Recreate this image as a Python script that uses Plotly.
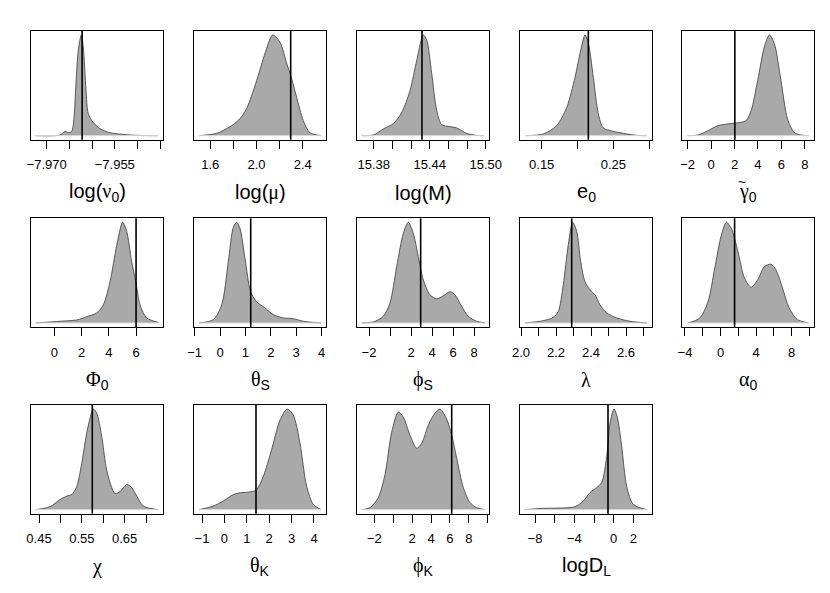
import plotly.graph_objects as go

# ---------------- data ----------------
# relative posterior density (peak = 1) at sampled parameter values, plus the true value
nu0_x = [-7.97242, -7.96707, -7.96597, -7.96524, -7.96449, -7.96399, -7.96355, -7.96304, -7.96238,
         -7.96194, -7.96134, -7.96084, -7.95974, -7.95826, -7.95606, -7.95099, -7.94548]
nu0_d = [0.0, 0.007, 0.043, 0.03, 0.043, 0.18, 0.52, 0.85, 1.0, 0.88, 0.45, 0.22, 0.13, 0.07, 0.03, 0.005, 0.0]
nu0_true = -7.9622

mu_x = [1.502, 1.655, 1.799, 1.857, 1.915, 2.002, 2.074, 2.140, 2.203, 2.261, 2.296, 2.348, 2.405, 2.463, 2.558]
mu_d = [0.0, 0.023, 0.11, 0.17, 0.27, 0.55, 0.82, 1.0, 0.93, 0.72, 0.6, 0.38, 0.15, 0.03, 0.0]
mu_true = 2.296

M_x = [15.3671, 15.3796, 15.3903, 15.4010, 15.4100, 15.4189, 15.4261, 15.4331, 15.4368, 15.4421,
       15.4475, 15.4528, 15.4617, 15.4689, 15.4796, 15.4903, 15.4981]
M_d = [0.0, 0.007, 0.067, 0.12, 0.23, 0.45, 0.75, 1.0, 0.95, 0.62, 0.25, 0.11, 0.09, 0.077, 0.023, 0.003, 0.0]
M_true = 15.4317

e0_x = [0.1267, 0.1522, 0.1709, 0.1849, 0.1965, 0.2045, 0.2105, 0.2151, 0.2221, 0.2290, 0.2360,
        0.2500, 0.2640, 0.2827, 0.2966]
e0_d = [0.0, 0.017, 0.1, 0.28, 0.58, 0.85, 1.0, 0.92, 0.58, 0.22, 0.077, 0.043, 0.023, 0.003, 0.0]
e0_true = 0.2151

gam_x = [-2.0, -1.102, -0.254, 0.593, 1.441, 2.577, 3.0, 3.424, 3.983, 4.551, 4.98, 5.40, 5.966,
         6.526, 7.094, 7.662, 8.306]
gam_d = [0.0, 0.007, 0.05, 0.1, 0.117, 0.133, 0.15, 0.25, 0.55, 0.883, 1.0, 0.917, 0.55, 0.167, 0.033, 0.007, 0.0]
gam_true = 2.03

Phi0_x = [-1.365, 0.418, 1.644, 2.378, 3.112, 3.596, 4.088, 4.580, 5.020, 5.314, 5.680, 5.996, 6.290, 6.781, 7.633]
Phi0_d = [0.0, 0.017, 0.03, 0.063, 0.1, 0.18, 0.41, 0.77, 1.0, 0.91, 0.61, 0.4, 0.18, 0.05, 0.007]
Phi0_true = 6.0

thS_x = [-0.827, -0.264, 0.067, 0.327, 0.524, 0.657, 0.787, 0.984, 1.209, 1.445, 1.772, 2.098,
         2.492, 2.886, 3.280, 3.976]
thS_d = [0.0, 0.033, 0.18, 0.61, 0.95, 1.0, 0.94, 0.64, 0.31, 0.21, 0.15, 0.083, 0.05, 0.043, 0.017, 0.0]
thS_true = 1.209

phS_x = [-2.695, -1.590, -0.638, 0.0, 0.638, 1.267, 1.743, 2.219, 2.695, 3.171, 3.810, 4.448, 5.076,
         5.714, 6.190, 6.829, 7.457, 8.257, 9.048]
phS_d = [0.0, 0.01, 0.066, 0.2, 0.56, 0.89, 1.0, 0.89, 0.66, 0.43, 0.28, 0.24, 0.27, 0.31, 0.28,
         0.165, 0.066, 0.017, 0.0]
phS_true = 2.92

lam_x = [2.0229, 2.1274, 2.1846, 2.2131, 2.2417, 2.2703, 2.2954, 2.3183, 2.3411, 2.3657, 2.3943,
         2.4229, 2.4514, 2.4897, 2.5469, 2.6229, 2.7183]
lam_d = [0.0, 0.023, 0.056, 0.115, 0.38, 0.78, 1.0, 0.91, 0.61, 0.41, 0.33, 0.28, 0.18, 0.1, 0.05, 0.017, 0.0]
lam_true = 2.2897

alp_x = [-3.698, -2.324, -1.397, -0.648, 0.101, 0.659, 1.218, 1.955, 2.704, 3.452, 4.190, 4.938,
         5.687, 6.245, 6.983, 7.732, 8.659, 9.888]
alp_d = [0.0, 0.05, 0.215, 0.545, 0.875, 1.0, 0.94, 0.71, 0.445, 0.356, 0.43, 0.56, 0.584, 0.528,
         0.347, 0.149, 0.033, 0.0]
alp_true = 1.587

chi_x = [0.4423, 0.4757, 0.4991, 0.5147, 0.5264, 0.5381, 0.5498, 0.5628, 0.5769, 0.5848, 0.5965,
         0.6065, 0.6159, 0.6276, 0.6393, 0.6549, 0.6666, 0.6783, 0.6937, 0.7287]
chi_d = [0.0, 0.03, 0.1, 0.135, 0.15, 0.23, 0.46, 0.79, 1.0, 0.96, 0.73, 0.43, 0.27, 0.16, 0.18,
         0.25, 0.22, 0.135, 0.036, 0.0]
chi_true = 0.5745

thK_x = [-1.134, -0.496, -0.049, 0.397, 0.696, 1.067, 1.411, 1.737, 2.112, 2.482, 2.808, 3.076,
         3.375, 3.674, 3.969, 4.313]
thK_d = [0.0, 0.036, 0.086, 0.15, 0.168, 0.174, 0.194, 0.33, 0.6, 0.89, 1.0, 0.94, 0.66, 0.23, 0.053, 0.0]
thK_true = 1.411

phK_x = [-3.333, -2.455, -1.577, -0.868, -0.159, 0.540, 1.069, 1.778, 2.487, 3.016, 3.714, 4.423,
         4.952, 5.661, 6.190, 6.720, 7.418, 8.127, 8.836, 9.714]
phK_d = [0.0, 0.02, 0.12, 0.35, 0.77, 0.97, 0.92, 0.74, 0.61, 0.66, 0.84, 0.96, 1.0, 0.9, 0.74,
         0.51, 0.22, 0.07, 0.02, 0.0]
phK_true = 6.19

DL_x = [-9.088, -7.156, -5.458, -3.933, -3.089, -2.408, -1.726, -1.218, -0.709, -0.374, 0.033,
        0.368, 0.816, 1.324, 1.995, 3.358]
DL_d = [0.0, 0.013, 0.016, 0.03, 0.086, 0.17, 0.22, 0.27, 0.53, 0.86, 1.0, 0.92, 0.63, 0.23, 0.053, 0.0]
DL_true = -0.577

# tick values and tick labels ("" = tick without label)
nu0_ticks = [-7.970, -7.965, -7.960, -7.955, -7.950, -7.945]
nu0_labels = ["\u22127.970", "", "", "\u22127.955", "", ""]
mu_ticks = [1.6, 1.8, 2.0, 2.2, 2.4]
mu_labels = ["1.6", "", "2.0", "", "2.4"]
M_ticks = [15.38, 15.40, 15.42, 15.44, 15.46, 15.48, 15.50]
M_labels = ["15.38", "", "", "15.44", "", "", "15.50"]
e0_ticks = [0.15, 0.20, 0.25, 0.30]
e0_labels = ["0.15", "", "0.25", ""]
gam_ticks = [-2, 0, 2, 4, 6, 8]
gam_labels = ["\u22122", "0", "2", "4", "6", "8"]
Phi0_ticks = [0, 2, 4, 6]
Phi0_labels = ["0", "2", "4", "6"]
thS_ticks = [-1, 0, 1, 2, 3, 4]
thS_labels = ["\u22121", "0", "1", "2", "3", "4"]
phS_ticks = [-2, 0, 2, 4, 6, 8]
phS_labels = ["\u22122", "", "2", "4", "6", "8"]
lam_ticks = [2.0, 2.1, 2.2, 2.3, 2.4, 2.5, 2.6, 2.7]
lam_labels = ["2.0", "", "2.2", "", "2.4", "", "2.6", ""]
alp_ticks = [-4, -2, 0, 2, 4, 6, 8, 10]
alp_labels = ["\u22124", "", "0", "", "4", "", "8", ""]
chi_ticks = [0.45, 0.50, 0.55, 0.60, 0.65, 0.70]
chi_labels = ["0.45", "", "0.55", "", "0.65", ""]
thK_ticks = [-1, 0, 1, 2, 3, 4]
thK_labels = ["\u22121", "0", "1", "2", "3", "4"]
phK_ticks = [-2, 0, 2, 4, 6, 8, 10]
phK_labels = ["\u22122", "", "2", "4", "6", "8", ""]
DL_ticks = [-8, -6, -4, -2, 0, 2]
DL_labels = ["\u22128", "", "\u22124", "", "0", "2"]

# axis titles
G = "<span style='font-family:Liberation Serif'>%s</span>"
titles = [
    "log(" + G % "\u03bd" + "<sub>0</sub>)",
    "log(" + G % "\u03bc" + ")",
    "log(M)",
    "e<sub>0</sub>",
    G % "\u03b3" + "<sub>0</sub>",
    G % "\u03a6" + "<sub>0</sub>",
    G % "\u03b8" + "<sub>S</sub>",
    G % "\u03d5" + "<sub>S</sub>",
    G % "\u03bb",
    G % "\u03b1" + "<sub>0</sub>",
    G % "\u03c7",
    G % "\u03b8" + "<sub>K</sub>",
    G % "\u03d5" + "<sub>K</sub>",
    "logD<sub>L</sub>",
]
TILDE_PANEL = 4  # the gamma title carries a tilde accent

# ---------------- layout (positions / styles) ----------------
# positions are given in window pixels; the page body has an 8px margin
OFF = 8
WIN_W, WIN_H = 830, 593
W, H = WIN_W - 2 * OFF, WIN_H - 2 * OFF
lefts = [31, 194, 357, 520, 682]
PW = 132
tops = [31, 218.3, 405]
PH = 108.7
xranges = [
    [-7.97346, -7.94438], [1.4589, 2.6017], [15.3621, 15.5035], [0.1197, 0.3040], [-2.483, 8.789],
    [-1.710, 7.977], [-1.0236, 4.173], [-3.143, 9.429], [1.9943, 2.7486], [-4.335, 10.525],
    [0.4313, 0.7397], [-1.357, 4.536], [-3.831, 10.137], [-9.525, 3.897],
]


def px(xp):
    return (xp - OFF) / W


def py(yp):
    return 1 - (yp - OFF) / H


panels = [
    (nu0_x, nu0_d, nu0_true, nu0_ticks, nu0_labels),
    (mu_x, mu_d, mu_true, mu_ticks, mu_labels),
    (M_x, M_d, M_true, M_ticks, M_labels),
    (e0_x, e0_d, e0_true, e0_ticks, e0_labels),
    (gam_x, gam_d, gam_true, gam_ticks, gam_labels),
    (Phi0_x, Phi0_d, Phi0_true, Phi0_ticks, Phi0_labels),
    (thS_x, thS_d, thS_true, thS_ticks, thS_labels),
    (phS_x, phS_d, phS_true, phS_ticks, phS_labels),
    (lam_x, lam_d, lam_true, lam_ticks, lam_labels),
    (alp_x, alp_d, alp_true, alp_ticks, alp_labels),
    (chi_x, chi_d, chi_true, chi_ticks, chi_labels),
    (thK_x, thK_d, thK_true, thK_ticks, thK_labels),
    (phK_x, phK_d, phK_true, phK_ticks, phK_labels),
    (DL_x, DL_d, DL_true, DL_ticks, DL_labels),
]

FONT = "Liberation Sans, Arial, Helvetica, sans-serif"
fig = go.Figure()
layout = dict(
    width=W, height=H, autosize=False,
    margin=dict(l=0, r=0, t=0, b=0, pad=0, autoexpand=False),
    paper_bgcolor="white", plot_bgcolor="white", showlegend=False,
    font=dict(family=FONT, color="black"),
)
shapes, annotations = [], []

for i, (xs, ds, tv, ticks, labels) in enumerate(panels):
    r, c = divmod(i, 5)
    n = "" if i == 0 else str(i + 1)
    left, top = lefts[c], tops[r]
    xdom = [px(left), px(left + PW)]
    ydom = [py(top + PH), py(top)]
    layout["xaxis" + n] = dict(
        domain=xdom, range=xranges[i], anchor="y" + n, automargin=False,
        showline=True, mirror=True, linecolor="black", linewidth=1.2,
        showgrid=False, zeroline=False,
        ticks="outside", ticklen=8, tickwidth=1, tickcolor="black",
        tickmode="array", tickvals=ticks, ticktext=labels,
        tickfont=dict(family=FONT, size=13, color="black"),
        ticklabelstandoff=5,
    )
    layout["yaxis" + n] = dict(
        domain=ydom, range=[-0.04, 1.04], anchor="x" + n, automargin=False,
        showline=True, mirror=True, linecolor="black", linewidth=1.2,
        showgrid=False, zeroline=False, showticklabels=False, ticks="",
    )
    fig.add_trace(go.Scatter(
        x=xs, y=ds, mode="lines", xaxis="x" + n, yaxis="y" + n,
        line=dict(color="#3a3a3a", width=0.8, shape="spline", smoothing=0.8),
        fill="tozeroy", fillcolor="#A9A9A9", hoverinfo="skip",
    ))
    fig.add_trace(go.Scatter(
        x=[xs[0], xs[-1]], y=[0, 0], mode="lines", xaxis="x" + n, yaxis="y" + n,
        line=dict(color="#dcdcdc", width=1), hoverinfo="skip",
    ))
    shapes.append(dict(type="line", xref="x" + n, yref="y" + n + " domain",
                       x0=tv, x1=tv, y0=0, y1=1, line=dict(color="black", width=1.6)))
    cx = px(left + PW / 2)
    cy = py(top + PH + 53)
    annotations.append(dict(
        text=titles[i], xref="paper", yref="paper", x=cx, y=cy,
        xanchor="center", yanchor="middle", showarrow=False,
        font=dict(family=FONT, size=20, color="black"),
    ))
    if i == TILDE_PANEL:
        annotations.append(dict(
            text="~", xref="paper", yref="paper", x=cx, y=cy,
            xshift=-6, yshift=11, xanchor="center", yanchor="middle", showarrow=False,
            font=dict(family=FONT, size=14, color="black"),
        ))

layout["shapes"] = shapes
layout["annotations"] = annotations
fig.update_layout(**layout)
fig.write_html("out.html")
